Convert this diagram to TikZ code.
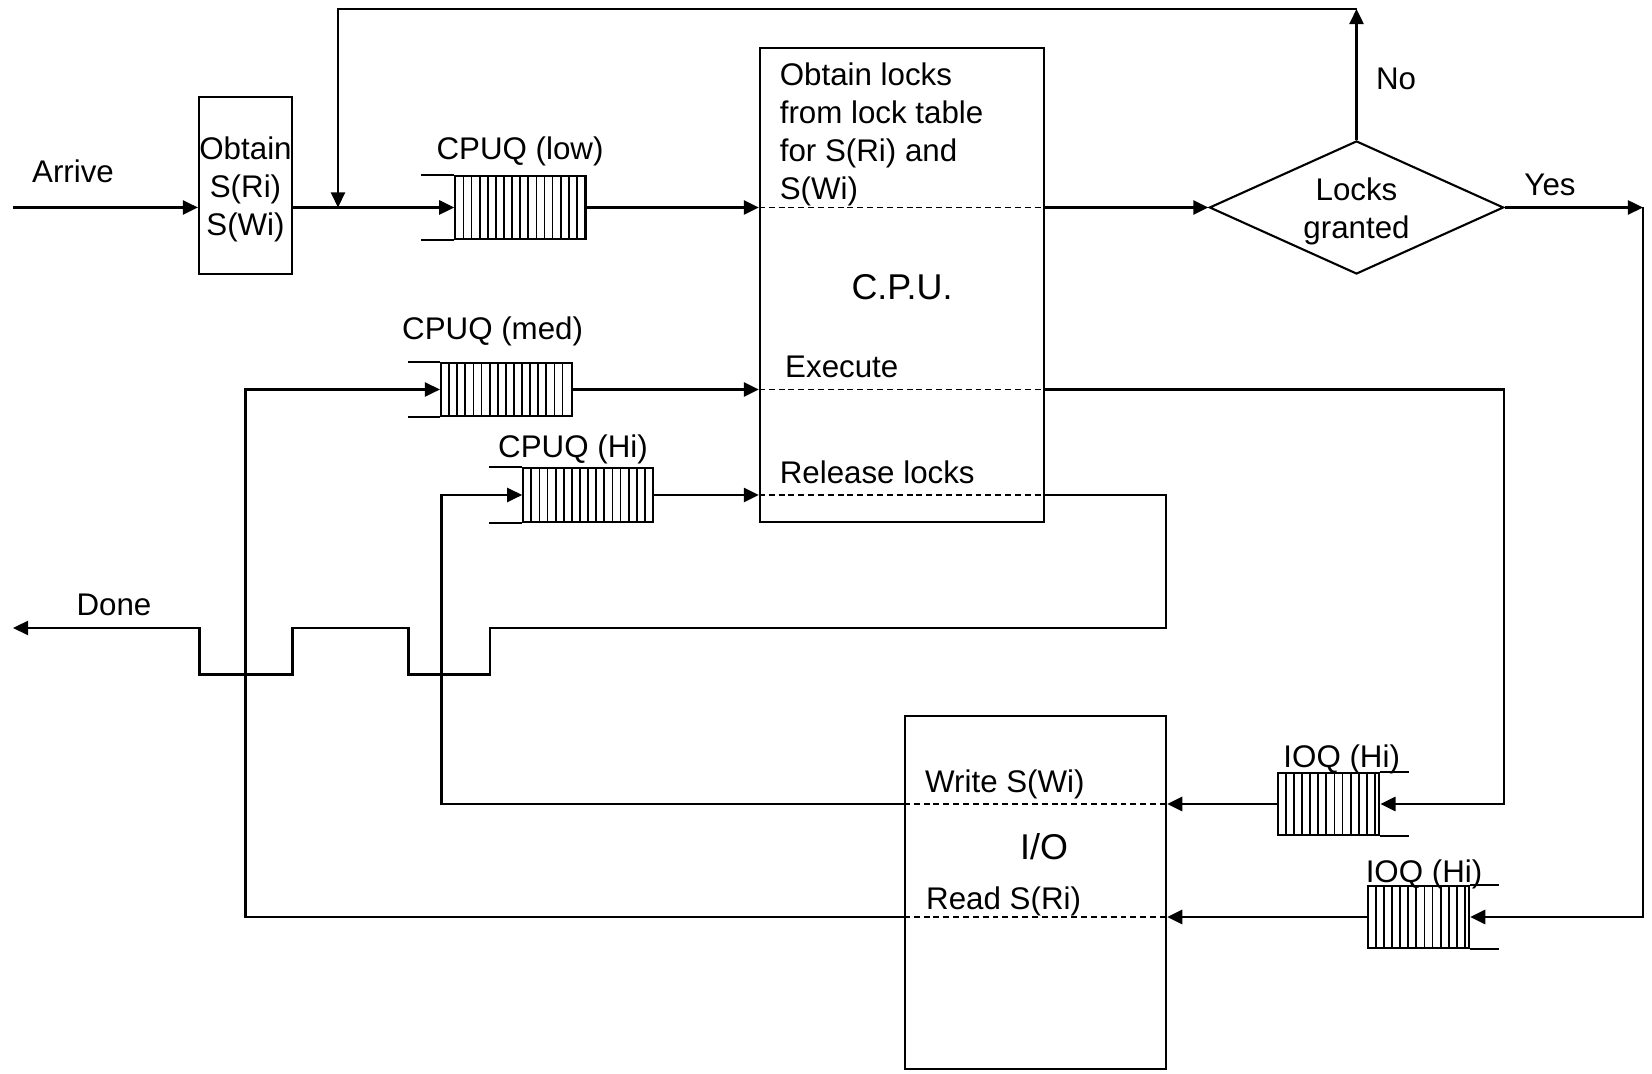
\documentclass[tikz,border=0pt]{standalone}
\usepackage{fontspec}
\setmainfont{Liberation Sans}
\usetikzlibrary{arrows.meta,shapes.geometric}
\begin{document}
\begin{tikzpicture}[x=0.01cm, y=-0.01cm, > = {Triangle[length=4.3pt,width=4pt]},
        font=\fontsize{8.9pt}{10.8pt}\selectfont, line width=0.7pt,
        fila/.style={rectangle, draw, line width=0.6pt, inner sep=0pt,
            path picture={\foreach \k in {1,...,#1}
                \draw[line width=0.5pt] ([xshift=\k*0.081cm]path picture bounding box.south west)
                    -- ([xshift=\k*0.081cm]path picture bounding box.north west);}}]
        \tikzstyle{caixa}=[rectangle, draw, line width=0.6pt, inner sep=0pt, align=center]
        \tikzstyle{rotulo}=[inner sep=0pt]
        \tikzstyle{tracejado}=[line width=0.5pt, dash pattern=on 1.7pt off 1.1pt]
        \tikzstyle{grande}=[inner sep=0pt, font=\fontsize{10.2pt}{12pt}\selectfont]

        \useasboundingbox (0,0) rectangle (1652,1074);

            % Nós
            \node[caixa, minimum width=0.93cm, minimum height=1.77cm] (obtain) at (245.5,185.5) {};
            \node[fila=15, minimum width=1.30cm, minimum height=0.63cm] (lowq) at (520.4,207.5) {};
            \node[fila=15, minimum width=1.307cm, minimum height=0.533cm] (medq) at (506.4,389.5) {};
            \node[fila=15, minimum width=1.30cm, minimum height=0.54cm] (hiq) at (588.3,495) {};
            \node[caixa, minimum width=2.84cm, minimum height=4.73cm] (cpu) at (902,285) {};
            \node[diamond, draw, line width=0.6pt, inner sep=0pt, aspect=2.2,
                minimum width=2.94cm, minimum height=1.33cm] (locks) at (1356.5,207.5) {};
            \node[caixa, minimum width=2.61cm, minimum height=3.53cm] (io) at (1035.5,892.5) {};
            \node[fila=12, minimum width=1.016cm, minimum height=0.62cm] (ioqa) at (1328.5,804) {};
            \node[fila=12, minimum width=1.013cm, minimum height=0.62cm] (ioqb) at (1418.4,917) {};

            % Bocas das filas
            \draw[line width=0.6pt] (lowq.north west) -- ++(-33,0) (lowq.south west) -- ++(-33,0);
            \draw[line width=0.6pt] (medq.north west) -- ++(-32,0) (medq.south west) -- ++(-32,0);
            \draw[line width=0.6pt] (hiq.north west) -- ++(-33,0) (hiq.south west) -- ++(-33,0);
            \draw[line width=0.6pt] (ioqa.north east) -- ++(29,0) (ioqa.south east) -- ++(29,0);
            \draw[line width=0.6pt] (ioqb.north east) -- ++(29,0) (ioqb.south east) -- ++(29,0);

            % Pontos
            \coordinate (arrive) at (13,207.5);
            \coordinate (retorno) at (338,207.5);
            \coordinate (topo) at (1356.5,9);
            \coordinate (yes) at (1643,207.5);
            \coordinate (exec) at (1504,804);
            \coordinate (escrita) at (441.7,804);
            \coordinate (leitura) at (245.5,917);
            \coordinate (desvio) at (1166,628);
            \coordinate (done) at (13,628);

            % Arestas
            \draw[->] (arrive) -- (arrive -| obtain.west);
            \draw[->] (obtain.east |- lowq.west) -- (lowq.west);
            \draw[->] (locks.north) -- (topo);
            \draw[->] (topo) -| (retorno);
            \draw[->] (lowq.east) -- (lowq.east -| cpu.west);
            \draw[->] (lowq.east -| cpu.east) -- (locks.west);
            \draw[->] (locks.east) -- (yes);
            \draw[->] (yes) |- (ioqb.east);
            \draw[->] (medq.east) -- (medq.east -| cpu.west);
            \draw[->] (hiq.east) -- (hiq.east -| cpu.west);
            \draw[->] (cpu.east |- medq.east) -| (exec) -- (ioqa.east);
            \draw[->] (ioqa.west) -- (ioqa.west -| io.east);
            \draw[->] (ioqb.west) -- (ioqb.west -| io.east);
            \draw[->] (io.west |- ioqa.west) -- (escrita) |- (hiq.west);
            \draw[->] (io.west |- ioqb.west) -- (leitura) |- (medq.west);
            \draw[->] (cpu.east |- hiq.east) -| (desvio) -- (490,628) |- (408.5,674.3)
                |- (292.7,628) |- (199.3,674.3) |- (done);

            % Tracejados
            \draw[tracejado] (cpu.west |- lowq.east) -- (cpu.east |- lowq.east);
            \draw[tracejado] (cpu.west |- medq.east) -- (cpu.east |- medq.east);
            \draw[tracejado] (cpu.west |- hiq.east) -- (cpu.east |- hiq.east);
            \draw[tracejado] (io.west |- ioqa.west) -- (io.east |- ioqa.west);
            \draw[tracejado] (io.west |- ioqb.west) -- (io.east |- ioqb.west);

            % Rótulos
            \node[rotulo, align=center] (obtaintxt) at (245.5,189.7) {Obtain\\S(Ri)\\S(Wi)};
            \node[rotulo, align=center] (lockslbl) at (1356.5,211.7) {Locks\\granted};
            \node[rotulo] (arrivelbl) at (73,171) {Arrive};
            \node[rotulo] (lowlbl) at (520,151) {CPUQ (low)};
            \node[rotulo] (medlbl) at (492.6,331.9) {CPUQ (med)};
            \node[rotulo] (hilbl) at (573,449.7) {CPUQ (Hi)};
            \node[rotulo, anchor=west, align=left] (lockstxt) at (778.6,134.8) {Obtain locks\\from lock table\\for S(Ri) and\\S(Wi)};
            \node[grande] (cpulbl) at (902,287.6) {C.P.U.};
            \node[rotulo, anchor=west] (execlbl) at (784,366.6) {Execute};
            \node[rotulo, anchor=west] (rellbl) at (778.6,472) {Release locks};
            \node[rotulo] (nolbl) at (1396,79) {No};
            \node[rotulo] (yeslbl) at (1550,185) {Yes};
            \node[rotulo] (donelbl) at (114,604.6) {Done};
            \node[rotulo] (ioqalbl) at (1341.7,759.9) {IOQ (Hi)};
            \node[rotulo] (ioqblbl) at (1424,874.9) {IOQ (Hi)};
            \node[rotulo, anchor=west] (writelbl) at (924,784.9) {Write S(Wi)};
            \node[grande] (iolbl) at (1044,847) {I/O};
            \node[rotulo, anchor=west] (readlbl) at (925,901.9) {Read S(Ri)};
\end{tikzpicture}
\end{document}
